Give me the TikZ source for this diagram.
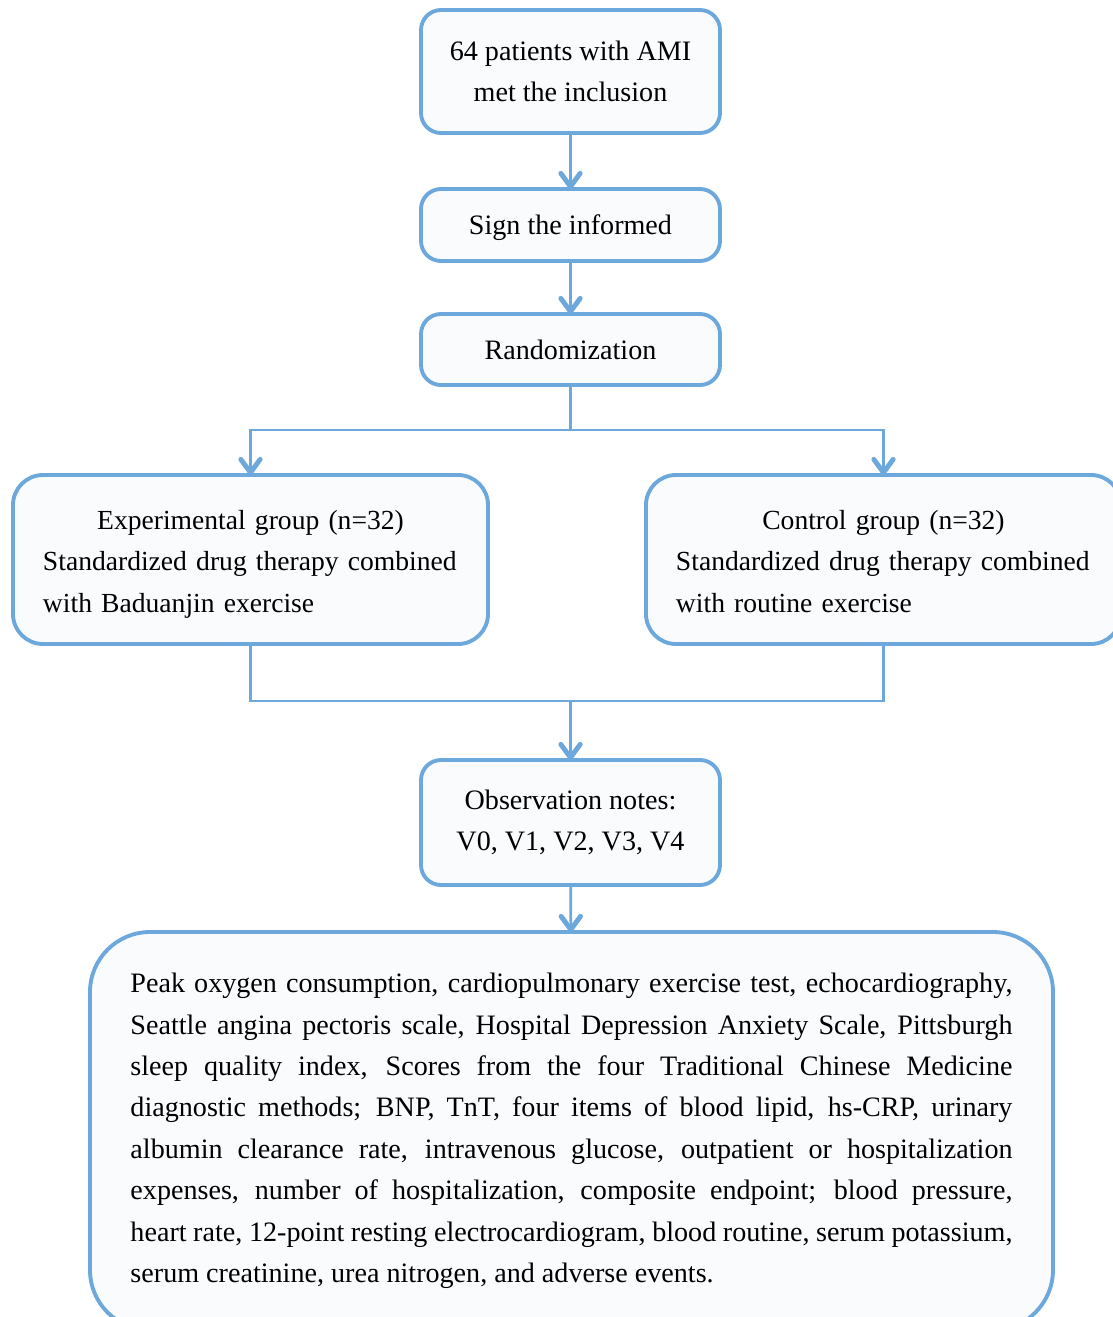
\documentclass[tikz,border=0pt]{standalone}
\usepackage{fontspec}
\setmainfont{Liberation Serif}
\usepackage{xcolor}
\usetikzlibrary{arrows.meta, positioning}

\definecolor{flowblue}{RGB}{108,168,220}
\definecolor{boxfill}{RGB}{250,251,253}

\begin{document}
\begin{tikzpicture}[
  node distance=1.1cm,
  box/.style={rectangle, draw=flowblue, line width=2.2pt, rounded corners=0.4cm,
              fill=boxfill, minimum width=5.98cm, align=center, outer sep=0pt,
              font=\fontsize{16}{23.6}\selectfont},
  groupbox/.style={box, rounded corners=0.6cm, minimum width=9.5cm,
              minimum height=3.38cm, text width=8.3cm, inner xsep=0.6cm, align=left,
              font=\fontsize{15.7}{23.6}\selectfont},
  link/.style={draw=flowblue, line width=1.5pt},
  arrow/.style={link, -{Straight Barb[length=7.5pt, width=11pt, line width=2.8pt, round]}},
]
  \useasboundingbox (-11.41,1.43) rectangle (10.85,-24.91);

  % Inclusion
  \node[box, minimum height=2.46cm] (incl) at (0,0) {64 patients with AMI\\met the inclusion};
  % Consent
  \node[box, minimum height=1.44cm, text depth=0pt, below=1.12cm of incl] (sign) {Sign the informed};
  % Randomization
  \node[box, minimum height=1.42cm, below=1.06cm of sign] (rand) {Randomization};
  % Groups
  \node[groupbox, below=1.8cm of rand, xshift=-6.4cm] (exp)
    {\rule{0pt}{20pt}\makebox[\linewidth][c]{Experimental group (n=32)}\\
     \makebox[\linewidth][l]{Standardized drug therapy combined}\\with Baduanjin exercise\strut};
  \node[groupbox, below=1.8cm of rand, xshift=6.26cm] (ctrl)
    {\rule{0pt}{20pt}\makebox[\linewidth][c]{Control group (n=32)}\\
     \makebox[\linewidth][l]{Standardized drug therapy combined}\\with routine exercise\strut};
  % Observation
  \node[box, minimum height=2.5cm, below=7.5cm of rand] (obs) {Observation notes:\\V0, V1, V2, V3, V4};
  % Outcomes
  \node[box, rounded corners=1.2cm, minimum width=19.26cm, minimum height=7.96cm,
        text width=17.64cm, inner xsep=0.81cm, align=justify,
        below=0.94cm of obs, xshift=0.02cm] (res)
    {Peak oxygen consumption, cardiopulmonary exercise test, echocardiography,\linebreak
     Seattle angina pectoris scale, Hospital Depression Anxiety Scale, Pittsburgh\linebreak
     sleep quality index, Scores from the four Traditional Chinese Medicine\linebreak
     diagnostic methods; BNP, TnT, four items of blood lipid, hs-CRP, urinary\linebreak
     albumin clearance rate, intravenous glucose, outpatient or hospitalization\linebreak
     expenses, number of hospitalization, composite endpoint; blood pressure,\linebreak
     heart rate, 12-point resting electrocardiogram, blood routine, serum potassium,\linebreak
     serum creatinine, urea nitrogen, and adverse events.};

  % Junctions
  \coordinate[below=0.9cm of rand.south] (split);
  \coordinate[above=1.18cm of obs.north] (join);

  % Arrows
  \draw[arrow] (incl) -- (sign);
  \draw[arrow] (sign) -- (rand);
  \draw[link]  (rand.south) -- (split);
  \draw[arrow] (split) -| (exp.north);
  \draw[arrow] (split) -| (ctrl.north);
  \draw[link]  (exp.south) |- (join);
  \draw[link]  (ctrl.south) |- (join);
  \draw[arrow] (join) -- (obs);
  \draw[arrow] (obs) -- (res);
\end{tikzpicture}
\end{document}
